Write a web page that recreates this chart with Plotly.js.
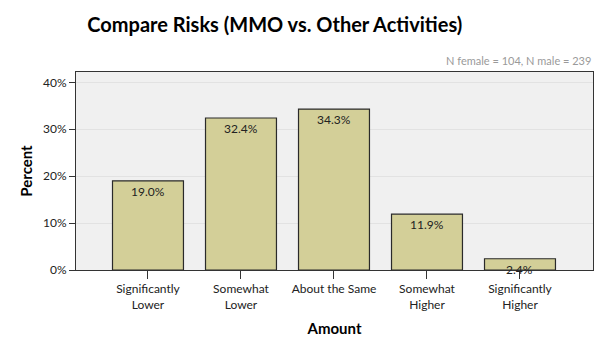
<!DOCTYPE html>
<html>
<head>
<meta charset="utf-8">
<script src="https://cdn.plot.ly/plotly-3.0.1.min.js"></script>
<style>html,body{margin:0;padding:0;background:#fff;}#chart{width:600px;height:350px;}</style>
</head>
<body>
<div id="chart"></div>
<script>
const categories = ["Significantly<br>Lower", "Somewhat<br>Lower", "About the Same", "Somewhat<br>Higher", "Significantly<br>Higher"];
const percents = [19.0, 32.4, 34.3, 11.9, 2.4];
const yTicks = [0, 10, 20, 30, 40];
const noteText = "N female = 104, N male = 239";

const font = "Lato, 'Open Sans', 'DejaVu Sans', sans-serif";

const trace = {
  type: "bar",
  x: categories,
  y: percents,
  width: 0.763,
  marker: { color: "#d3cf98", line: { color: "#2a2a2a", width: 1.2 } },
  hoverinfo: "none"
};

const labelAnns = categories.map((c, i) => ({
  x: c, y: percents[i], xref: "x", yref: "y",
  text: percents[i].toFixed(1) + "%",
  showarrow: false, yanchor: "top", yshift: -1,
  font: { family: font, size: 12, color: "#222" }
}));

const layout = {
  width: 600, height: 350,
  margin: { l: 76, r: 7, t: 72, b: 80 },
  paper_bgcolor: "#ffffff",
  plot_bgcolor: "#f0f0f0",
  showlegend: false,
  title: {
    text: "<b>Compare Risks (MMO vs. Other Activities)</b>",
    xref: "container", x: 0.458, xanchor: "center", y: 0.93, yanchor: "middle",
    font: { family: font, size: 20, color: "#000" }
  },
  xaxis: {
    type: "category",
    range: [-0.774, 4.785],
    showgrid: false, zeroline: false,
    showline: true, linecolor: "#333", linewidth: 1, mirror: true,
    ticks: "outside", ticklen: 8, tickcolor: "#333",
    tickfont: { family: font, size: 12, color: "#222" },
    title: { text: "<b>Amount</b>", standoff: 12, font: { family: font, size: 15, color: "#000" } }
  },
  yaxis: {
    range: [0, 42.2],
    tickvals: yTicks,
    ticktext: yTicks.map(v => v + "%"),
    showgrid: true, gridcolor: "#e2e2e2", gridwidth: 1,
    zeroline: false,
    showline: true, linecolor: "#333", linewidth: 1, mirror: true,
    ticks: "outside", ticklen: 6, tickcolor: "#333",
    tickfont: { family: font, size: 12, color: "#222" },
    title: { text: "<b>Percent</b>", standoff: 6, font: { family: font, size: 15, color: "#000" } }
  },
  annotations: labelAnns.concat([{
    xref: "paper", yref: "paper", x: 1, y: 1, xanchor: "right", yanchor: "bottom", yshift: 3,
    text: noteText, showarrow: false,
    font: { family: font, size: 11, color: "#9a9a9a" }
  }])
};

Plotly.newPlot("chart", [trace], layout, { displayModeBar: false, staticPlot: true });
</script>
</body>
</html>
